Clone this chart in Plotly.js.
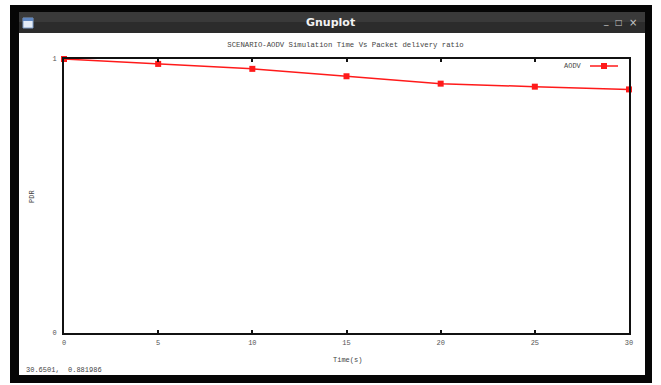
<!DOCTYPE html>
<html>
<head>
<meta charset="utf-8">
<script src="https://cdn.plot.ly/plotly-3.0.1.min.js"></script>
<style>
  html, body { margin: 0; padding: 0; background: #ffffff; }
  #plot { width: 661px; height: 385px; }
</style>
</head>
<body>
<div id="plot"></div>
<script>
// Packet delivery ratio of AODV over simulation time
const timeS = [0, 5, 10, 15, 20, 25, 30];
const pdr = [1.0, 0.982, 0.964, 0.937, 0.910, 0.899, 0.889];
const xTickVals = [0, 5, 10, 15, 20, 25, 30];
const yTickVals = [0, 1];
const seriesName = 'AODV';

const W = 661, H = 385;
const PL = 64, PR = 629, PT = 59, PB = 333;   // plot area in pixels
// pixel -> paper coordinate helpers for window decorations
const X = px => (px - PL) / (PR - PL);
const Y = py => (PB - py) / (PB - PT);

const mono = 'Liberation Mono, DejaVu Sans Mono, monospace';
const red = '#ff1a1a';

const trace = {
  x: timeS,
  y: pdr,
  type: 'scatter',
  mode: 'lines+markers',
  name: seriesName,
  line: { color: red, width: 1.5 },
  marker: { color: red, symbol: 'square', size: 6 },
  cliponaxis: false,
  showlegend: false
};

const shapes = [
  // window frame
  { type: 'rect', xref: 'paper', yref: 'paper', layer: 'below',
    x0: X(10), x1: X(652), y0: Y(383), y1: Y(5),
    fillcolor: '#060606', line: { width: 0 } },
  // title bar
  { type: 'rect', xref: 'paper', yref: 'paper', layer: 'below',
    x0: X(19), x1: X(645), y0: Y(22), y1: Y(12),
    fillcolor: '#3a3a3a', line: { width: 0 } },
  { type: 'rect', xref: 'paper', yref: 'paper', layer: 'below',
    x0: X(19), x1: X(645), y0: Y(33), y1: Y(22),
    fillcolor: '#2c2c2c', line: { width: 0 } },
  // window icon
  { type: 'rect', xref: 'paper', yref: 'paper', layer: 'below',
    x0: X(23), x1: X(33), y0: Y(28), y1: Y(18),
    fillcolor: '#e4ecf7', line: { color: '#7f9cc6', width: 1 } },
  { type: 'rect', xref: 'paper', yref: 'paper', layer: 'below',
    x0: X(23), x1: X(33), y0: Y(21), y1: Y(18),
    fillcolor: '#5f86c0', line: { width: 0 } },
  // white client area
  { type: 'rect', xref: 'paper', yref: 'paper', layer: 'below',
    x0: X(19), x1: X(645), y0: Y(375), y1: Y(33),
    fillcolor: '#ffffff', line: { width: 0 } },
  // key sample line and point
  { type: 'line', xref: 'paper', yref: 'paper',
    x0: X(590), x1: X(618), y0: Y(66), y1: Y(66),
    line: { color: red, width: 1.5 } },
  { type: 'rect', xref: 'paper', yref: 'paper',
    x0: X(601), x1: X(607), y0: Y(69), y1: Y(63),
    fillcolor: red, line: { width: 0 } }
];

const annotations = [
  { text: '<b>Gnuplot</b>', xref: 'paper', yref: 'paper', x: X(330), y: Y(22),
    xanchor: 'center', yanchor: 'middle', showarrow: false,
    font: { family: 'DejaVu Sans, sans-serif', size: 11, color: '#f2f2f2' } },
  { text: '_', xref: 'paper', yref: 'paper', x: X(606), y: Y(21),
    xanchor: 'center', yanchor: 'middle', showarrow: false,
    font: { family: 'DejaVu Sans, sans-serif', size: 9, color: '#c8c8c8' } },
  { text: '□', xref: 'paper', yref: 'paper', x: X(619), y: Y(22),
    xanchor: 'center', yanchor: 'middle', showarrow: false,
    font: { family: 'DejaVu Sans, sans-serif', size: 8, color: '#c8c8c8' } },
  { text: '×', xref: 'paper', yref: 'paper', x: X(633), y: Y(22),
    xanchor: 'center', yanchor: 'middle', showarrow: false,
    font: { family: 'DejaVu Sans, sans-serif', size: 10, color: '#c8c8c8' } },
  { text: seriesName, xref: 'paper', yref: 'paper', x: X(584), y: Y(66),
    xanchor: 'right', yanchor: 'middle', showarrow: false,
    font: { family: mono, size: 7, color: '#444' } },
  { text: '30.6501,  0.881986', xref: 'paper', yref: 'paper', x: X(24), y: Y(370),
    xanchor: 'left', yanchor: 'middle', showarrow: false,
    font: { family: mono, size: 7, color: '#444' } },
  { text: 'Time(s)', xref: 'paper', yref: 'paper', x: X(347), y: Y(360),
    xanchor: 'center', yanchor: 'middle', showarrow: false,
    font: { family: mono, size: 7, color: '#444' } },
  { text: 'PDR', xref: 'paper', yref: 'paper', x: X(32), y: Y(197),
    xanchor: 'center', yanchor: 'middle', showarrow: false, textangle: -90,
    font: { family: mono, size: 7, color: '#444' } }
];

const layout = {
  width: W, height: H,
  margin: { l: PL, r: W - PR, t: PT, b: H - PB, pad: 0 },
  paper_bgcolor: '#ffffff',
  plot_bgcolor: '#ffffff',
  title: {
    text: 'SCENARIO-AODV Simulation Time Vs Packet delivery ratio',
    font: { family: mono, size: 7.3, color: '#444' },
    x: 345.5 / W, xref: 'container', xanchor: 'center',
    y: 1 - 44 / H, yref: 'container', yanchor: 'middle'
  },
  xaxis: {
    range: [0, 30],
    tickvals: xTickVals,
    ticktext: xTickVals.map(String),
    ticks: 'inside', ticklen: 3, tickwidth: 2, tickcolor: '#111',
    showline: true, linecolor: '#111', linewidth: 2, mirror: 'ticks',
    showgrid: false, zeroline: false,
    ticklabelstandoff: 2,
    tickfont: { family: mono, size: 7, color: '#555' },
    fixedrange: true
  },
  yaxis: {
    range: [0, 1],
    tickvals: yTickVals,
    ticktext: yTickVals.map(String),
    ticks: 'inside', ticklen: 3, tickwidth: 2, tickcolor: '#111',
    showline: true, linecolor: '#111', linewidth: 2, mirror: 'ticks',
    showgrid: false, zeroline: false,
    ticklabelstandoff: 4,
    tickfont: { family: mono, size: 7, color: '#555' },
    fixedrange: true
  },
  shapes: shapes,
  annotations: annotations,
  showlegend: false
};

Plotly.newPlot('plot', [trace], layout, { staticPlot: true, displayModeBar: false });
</script>
</body>
</html>
